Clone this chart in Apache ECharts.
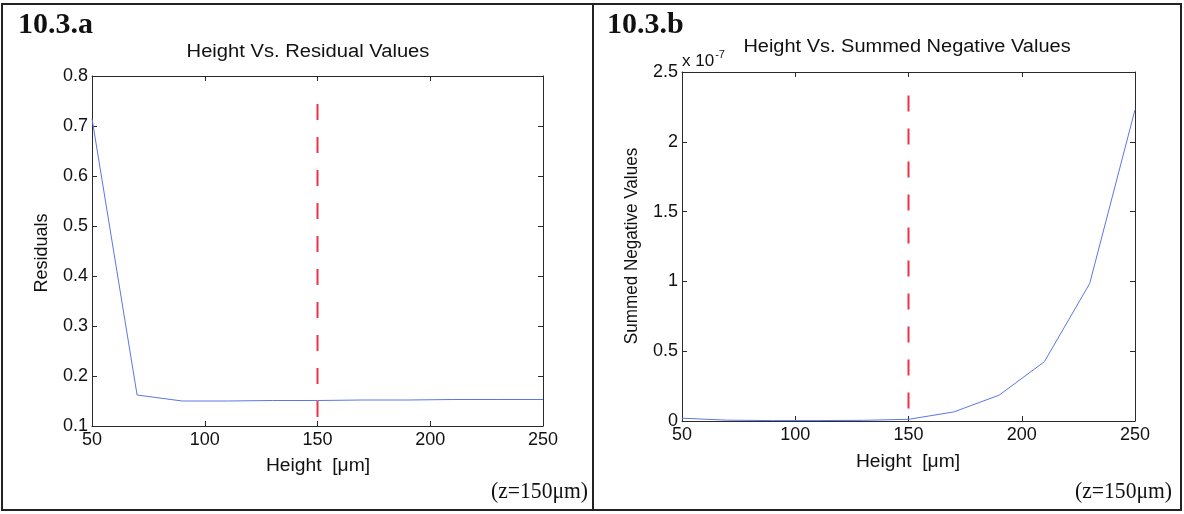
<!DOCTYPE html>
<html>
<head>
<meta charset="utf-8">
<script src="https://cdn.jsdelivr.net/npm/echarts@6/dist/echarts.min.js"></script>
<style>
html,body{margin:0;padding:0;background:#fff;}
#c{width:1184px;height:514px;}
</style>
</head>
<body>
<div id="c"></div>
<script>
// ---- data ----
const heights = [50, 70, 90, 110, 130, 150, 170, 190, 210, 230, 250];
const residuals = [0.715, 0.162, 0.150, 0.150, 0.151, 0.151, 0.152, 0.152, 0.153, 0.153, 0.153];
// summed negative values, in units of 1e-7
const summedNegE7 = [0.02, 0.006, 0.003, 0.003, 0.005, 0.012, 0.065, 0.185, 0.425, 0.985, 2.23];
const markerHeight = 150;
const residualMarkerRange = [0.118, 0.756];
const summedMarkerRange = [0.09, 2.39];
const xTicks = [50, 100, 150, 200, 250];
const leftYTicks = [0.1, 0.2, 0.3, 0.4, 0.5, 0.6, 0.7, 0.8];
const rightYTicks = [0, 0.5, 1, 1.5, 2, 2.5];

const chart = echarts.init(document.getElementById('c'), null, {renderer: 'canvas'});
const axisCol = '#2a2a2a';
const lab = {color: '#111', fontFamily: 'Liberation Sans, Arial, sans-serif', fontSize: 18};
const sans = '"Liberation Sans", Arial, sans-serif';
const serif = '"Liberation Serif", "Times New Roman", serif';

function xAx(g, pos, showLab) {
  return {
    type: 'value', gridIndex: g, position: pos, min: xTicks[0], max: xTicks[xTicks.length-1], interval: 50,
    axisLine: {show: true, onZero: false, lineStyle: {color: axisCol, width: 1}},
    axisTick: {show: true, inside: true, length: 5, lineStyle: {color: axisCol}},
    axisLabel: Object.assign({show: showLab, margin: 5}, lab),
    splitLine: {show: false}
  };
}
function yAx(g, pos, showLab, mn, mx, iv) {
  return {
    type: 'value', gridIndex: g, position: pos, min: mn, max: mx, interval: iv,
    axisLine: {show: true, onZero: false, lineStyle: {color: axisCol, width: 1}},
    axisTick: {show: true, inside: true, length: 5, lineStyle: {color: axisCol}},
    axisLabel: Object.assign({show: showLab, margin: 4}, lab),
    splitLine: {show: false}
  };
}

const blue = '#5a78e6';
const red = '#f03048';

const option = {
  animation: false,
  backgroundColor: '#ffffff',
  grid: [
    {left: 92, top: 76, width: 451, height: 350},
    {left: 682, top: 72, width: 453, height: 349}
  ],
  xAxis: [xAx(0, 'bottom', true), xAx(0, 'top', false), xAx(1, 'bottom', true), xAx(1, 'top', false)],
  yAxis: [
    yAx(0, 'left', true, leftYTicks[0], leftYTicks[leftYTicks.length-1], 0.1),
    yAx(0, 'right', false, leftYTicks[0], leftYTicks[leftYTicks.length-1], 0.1),
    yAx(1, 'left', true, rightYTicks[0], rightYTicks[rightYTicks.length-1], 0.5),
    yAx(1, 'right', false, rightYTicks[0], rightYTicks[rightYTicks.length-1], 0.5)
  ],
  series: [
    {type: 'line', xAxisIndex: 0, yAxisIndex: 0, data: heights.map((h, i) => [h, residuals[i]]),
     showSymbol: false, lineStyle: {color: blue, width: 1}, z: 3},
    {type: 'line', xAxisIndex: 0, yAxisIndex: 0, data: [[markerHeight, residualMarkerRange[0]], [markerHeight, residualMarkerRange[1]]],
     showSymbol: false, lineStyle: {color: red, width: 2, type: [16, 17]}, z: 2},
    {type: 'line', xAxisIndex: 2, yAxisIndex: 2, data: heights.map((h, i) => [h, summedNegE7[i]]),
     showSymbol: false, lineStyle: {color: blue, width: 1}, z: 3},
    {type: 'line', xAxisIndex: 2, yAxisIndex: 2, data: [[markerHeight, summedMarkerRange[0]], [markerHeight, summedMarkerRange[1]]],
     showSymbol: false, lineStyle: {color: red, width: 2, type: [16, 17]}, z: 2}
  ],
  graphic: [
    // panel frame
    {type: 'rect', shape: {x: 2, y: 4, width: 1179, height: 506}, style: {fill: null, stroke: '#222', lineWidth: 2}, silent: true},
    {type: 'line', shape: {x1: 593, y1: 4, x2: 593, y2: 510}, style: {stroke: '#222', lineWidth: 2}, silent: true},
    // panel labels
    {type: 'text', x: 18, y: 25, style: {text: '10.3.a', font: 'bold 30px ' + serif, fill: '#111', textVerticalAlign: 'middle'}},
    {type: 'text', x: 607, y: 25, style: {text: '10.3.b', font: 'bold 30px ' + serif, fill: '#111', textVerticalAlign: 'middle'}},
    // titles
    {type: 'text', x: 308, y: 52, scaleX: 1.12, style: {text: 'Height Vs. Residual Values', font: '18px ' + sans, fill: '#111', textAlign: 'center', textVerticalAlign: 'middle'}},
    {type: 'text', x: 907, y: 47, scaleX: 1.11, style: {text: 'Height Vs. Summed Negative Values', font: '18px ' + sans, fill: '#111', textAlign: 'center', textVerticalAlign: 'middle'}},
    // exponent label
    {type: 'text', x: 682, y: 61, style: {
      text: '{b|x 10}{s|-7}', textVerticalAlign: 'middle',
      rich: {b: {font: '17px ' + sans, fill: '#111', color: '#111'},
             s: {font: '11px ' + sans, fill: '#111', color: '#111', verticalAlign: 'top', padding: [0, 0, 12, 1]}}
    }},
    // axis names
    {type: 'text', x: 42, y: 253, rotation: Math.PI / 2, style: {text: 'Residuals', font: '18px ' + sans, fill: '#111', textAlign: 'center', textVerticalAlign: 'middle'}},
    {type: 'text', x: 632, y: 246, rotation: Math.PI / 2, scaleX: 0.95, style: {text: 'Summed Negative Values', font: '18px ' + sans, fill: '#111', textAlign: 'center', textVerticalAlign: 'middle'}},
    {type: 'text', x: 318, y: 466, scaleX: 1.07, style: {text: 'Height  [\u03bcm]', font: '18px ' + sans, fill: '#111', textAlign: 'center', textVerticalAlign: 'middle'}},
    {type: 'text', x: 908, y: 462, scaleX: 1.07, style: {text: 'Height  [\u03bcm]', font: '18px ' + sans, fill: '#111', textAlign: 'center', textVerticalAlign: 'middle'}},
    // notes
    {type: 'text', x: 588, y: 492, scaleX: 0.9, style: {text: '(z=150\u03bcm)', font: '24px ' + serif, fill: '#111', textAlign: 'right', textVerticalAlign: 'middle'}},
    {type: 'text', x: 1172, y: 492, scaleX: 0.9, style: {text: '(z=150\u03bcm)', font: '24px ' + serif, fill: '#111', textAlign: 'right', textVerticalAlign: 'middle'}}
  ]
};
chart.setOption(option);
</script>
</body>
</html>
